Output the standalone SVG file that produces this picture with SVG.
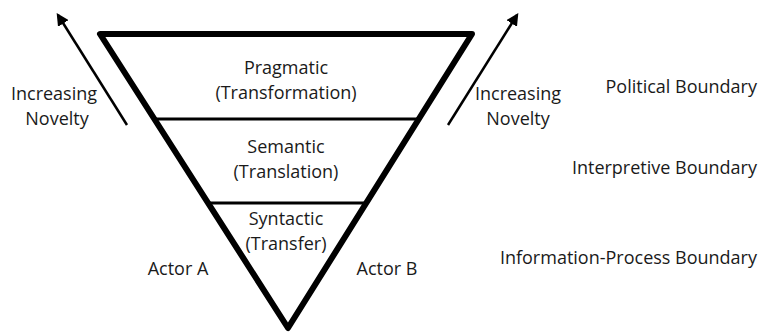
<svg xmlns="http://www.w3.org/2000/svg" width="764" height="333" viewBox="0 0 764 333">
<style>
text{font-family:"Open Sans","Liberation Sans",sans-serif;font-size:18px;fill:#1a1a1a}
.c{text-anchor:middle}
.e{text-anchor:end}
.outer{fill:none;stroke:#000;stroke-width:6;stroke-linejoin:round}
.div{stroke:#000;stroke-width:3}
.arr{stroke:#000;stroke-width:2.5;fill:none}
</style>
<defs>
<marker id="ah" viewBox="0 0 10 10" refX="8" refY="5" markerWidth="5" markerHeight="5" orient="auto" markerUnits="strokeWidth">
<path d="M0,0 L10,5 L0,10 Z" fill="#000"/>
</marker>
</defs>
<rect width="764" height="333" fill="#fff"/>
<g id="triangle">
<polygon class="outer" points="100,34 472,34 288,328"/>
</g>
<g id="connectors">
<line class="div" x1="153" y1="119" x2="418" y2="119"/>
<line class="div" x1="207" y1="203" x2="366" y2="203"/>
<line class="arr" x1="127" y1="125" x2="58" y2="15" marker-end="url(#ah)"/>
<line class="arr" x1="448" y1="125" x2="517" y2="15" marker-end="url(#ah)"/>
</g>
<g id="pragmatic">
<text class="c" x="286" y="74">Pragmatic</text>
<text class="c" x="286" y="99">(Transformation)</text>
</g>
<g id="semantic">
<text class="c" x="286" y="153">Semantic</text>
<text class="c" x="286" y="178">(Translation)</text>
</g>
<g id="syntactic">
<text class="c" x="286" y="225">Syntactic</text>
<text class="c" x="286" y="250">(Transfer)</text>
</g>
<g id="novelty-left">
<text class="c" x="54" y="100">Increasing</text>
<text class="c" x="57" y="125">Novelty</text>
</g>
<g id="novelty-right">
<text class="c" x="518" y="100">Increasing</text>
<text class="c" x="518" y="125">Novelty</text>
</g>
<g id="actor-a"><text class="c" x="178" y="275">Actor A</text></g>
<g id="actor-b"><text class="c" x="387" y="275">Actor B</text></g>
<g id="political"><text class="e" x="757" y="93">Political Boundary</text></g>
<g id="interpretive"><text class="e" x="757" y="174">Interpretive Boundary</text></g>
<g id="information"><text class="e" x="757" y="264">Information-Process Boundary</text></g>
</svg>
